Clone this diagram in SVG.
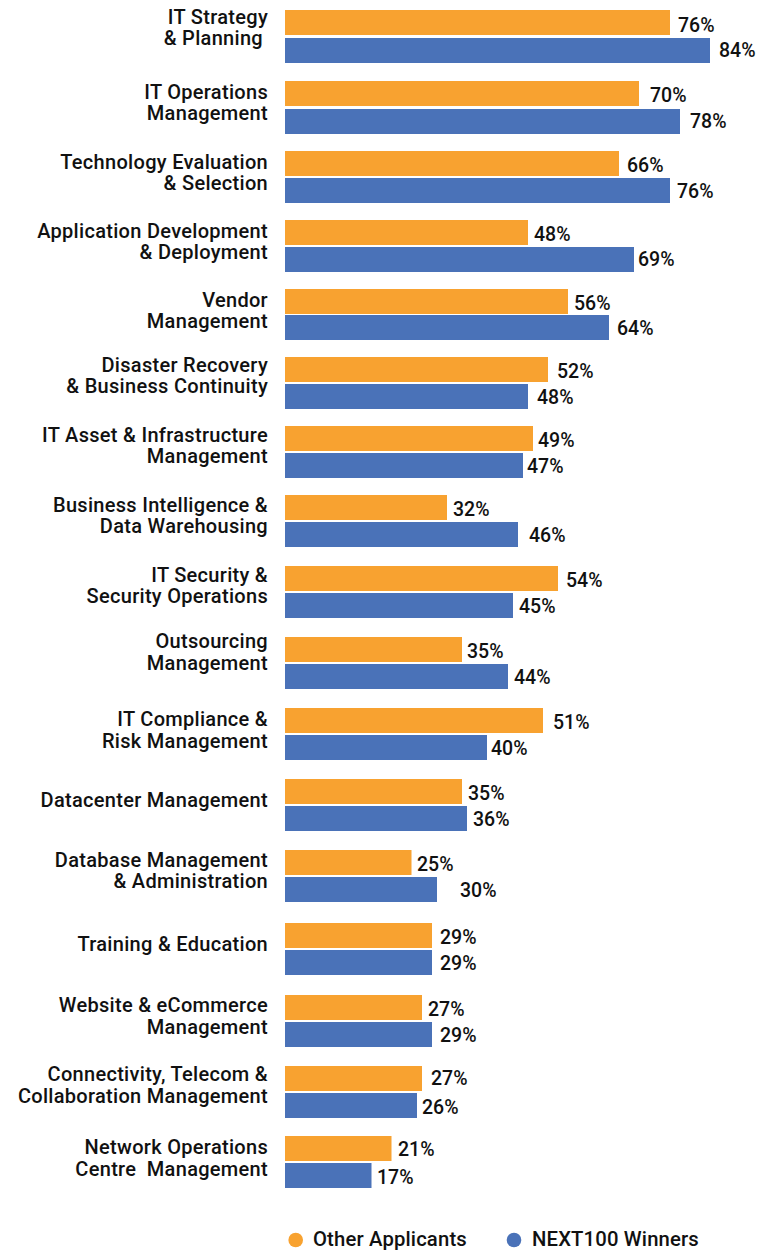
<svg xmlns="http://www.w3.org/2000/svg" width="773" height="1252" viewBox="0 0 773 1252">
<style>
text{font-family:Roboto,"Liberation Sans",sans-serif;font-weight:500;fill:#111;font-size:19.5px}
.lbl{text-anchor:end;font-size:20px;letter-spacing:0.3px}
.leg{font-size:20.3px;letter-spacing:0.15px}
.o{fill:#F8A230}
.b{fill:#4A72B8}
</style>
<rect width="773" height="1252" fill="#fff"/>
<g id="n1"><text class="lbl" x="268" y="23.5">IT Strategy</text><text class="lbl" x="263" y="44.5">&amp; Planning</text>
<rect class="o" x="285" y="10" width="385" height="25"/><rect class="b" x="285" y="38" width="425" height="25"/>
<text x="678" y="32">76%</text><text x="719" y="57">84%</text></g>
<g id="n2"><text class="lbl" x="268" y="99">IT Operations</text><text class="lbl" x="268" y="120">Management</text>
<rect class="o" x="285" y="81" width="354" height="25"/><rect class="b" x="285" y="109" width="395" height="25"/>
<text x="650" y="102">70%</text><text x="690" y="128">78%</text></g>
<g id="n3"><text class="lbl" x="268" y="169">Technology Evaluation</text><text class="lbl" x="268" y="190">&amp; Selection</text>
<rect class="o" x="285" y="151" width="334" height="25"/><rect class="b" x="285" y="178" width="385" height="25"/>
<text x="627" y="172">66%</text><text x="677" y="198">76%</text></g>
<g id="n4"><text class="lbl" x="268" y="238">Application Development</text><text class="lbl" x="268" y="259">&amp; Deployment</text>
<rect class="o" x="285" y="220" width="243" height="25"/><rect class="b" x="285" y="247" width="349" height="25"/>
<text x="534" y="241">48%</text><text x="638" y="266">69%</text></g>
<g id="n5"><text class="lbl" x="268" y="307">Vendor</text><text class="lbl" x="268" y="328">Management</text>
<rect class="o" x="285" y="289" width="283" height="25"/><rect class="b" x="285" y="315" width="324" height="25"/>
<text x="574" y="310">56%</text><text x="617" y="335">64%</text></g>
<g id="n6"><text class="lbl" x="268" y="372">Disaster Recovery</text><text class="lbl" x="268" y="393">&amp; Business Continuity</text>
<rect class="o" x="285" y="357" width="263" height="25"/><rect class="b" x="285" y="384" width="243" height="25"/>
<text x="557" y="378">52%</text><text x="537" y="404">48%</text></g>
<g id="n7"><text class="lbl" x="268" y="442">IT Asset &amp; Infrastructure</text><text class="lbl" x="268" y="463">Management</text>
<rect class="o" x="285" y="426" width="248" height="25"/><rect class="b" x="285" y="453" width="238" height="25"/>
<text x="538" y="447">49%</text><text x="527" y="473">47%</text></g>
<g id="n8"><text class="lbl" x="268" y="512">Business Intelligence &amp;</text><text class="lbl" x="268" y="533">Data Warehousing</text>
<rect class="o" x="285" y="495" width="162" height="25"/><rect class="b" x="285" y="522" width="233" height="25"/>
<text x="453" y="516">32%</text><text x="529" y="542">46%</text></g>
<g id="n9"><text class="lbl" x="268" y="582">IT Security &amp;</text><text class="lbl" x="268" y="603">Security Operations</text>
<rect class="o" x="285" y="566" width="273" height="25"/><rect class="b" x="285" y="593" width="228" height="25"/>
<text x="566" y="587">54%</text><text x="519" y="613">45%</text></g>
<g id="n10"><text class="lbl" x="268" y="648">Outsourcing</text><text class="lbl" x="268" y="670">Management</text>
<rect class="o" x="285" y="637" width="177" height="25"/><rect class="b" x="285" y="664" width="223" height="25"/>
<text x="467" y="658">35%</text><text x="514" y="684">44%</text></g>
<g id="n11"><text class="lbl" x="268" y="726">IT Compliance &amp;</text><text class="lbl" x="268" y="748">Risk Management</text>
<rect class="o" x="285" y="708" width="258" height="25"/><rect class="b" x="285" y="735" width="202" height="25"/>
<text x="553" y="729">51%</text><text x="491" y="755">40%</text></g>
<g id="n12"><text class="lbl" x="268" y="807">Datacenter Management</text>
<rect class="o" x="285" y="779" width="177" height="25"/><rect class="b" x="285" y="806" width="182" height="25"/>
<text x="468" y="800">35%</text><text x="473" y="826">36%</text></g>
<g id="n13"><text class="lbl" x="268" y="867">Database Management</text><text class="lbl" x="268" y="888">&amp; Administration</text>
<rect class="o" x="285" y="850" width="126.5" height="25"/><rect class="b" x="285" y="877" width="152" height="25"/>
<text x="417" y="871">25%</text><text x="460" y="897">30%</text></g>
<g id="n14"><text class="lbl" x="268" y="951">Training &amp; Education</text>
<rect class="o" x="285" y="923" width="147" height="25"/><rect class="b" x="285" y="950" width="147" height="25"/>
<text x="440" y="944">29%</text><text x="440" y="970">29%</text></g>
<g id="n15"><text class="lbl" x="268" y="1012">Website &amp; eCommerce</text><text class="lbl" x="268" y="1034">Management</text>
<rect class="o" x="285" y="995" width="137" height="25"/><rect class="b" x="285" y="1022" width="147" height="25"/>
<text x="428" y="1016">27%</text><text x="440" y="1042">29%</text></g>
<g id="n16"><text class="lbl" x="268" y="1081">Connectivity, Telecom &amp;</text><text class="lbl" x="268" y="1103">Collaboration Management</text>
<rect class="o" x="285" y="1066" width="137" height="25"/><rect class="b" x="285" y="1093" width="132" height="25"/>
<text x="431" y="1085">27%</text><text x="422" y="1114">26%</text></g>
<g id="n17"><text class="lbl" x="268" y="1154">Network Operations</text><text class="lbl" x="268" y="1176" xml:space="preserve">Centre  Management</text>
<rect class="o" x="285" y="1136" width="106.5" height="25"/><rect class="b" x="285" y="1163" width="86.5" height="25"/>
<text x="398" y="1156">21%</text><text x="377" y="1184">17%</text></g>
<g id="legend">
<circle class="o" cx="295.7" cy="1240" r="7.3"/><text class="leg" x="313" y="1246">Other Applicants</text>
<circle class="b" cx="514" cy="1240" r="7.3"/><text class="leg" x="532" y="1246">NEXT100 Winners</text>
</g>
</svg>
